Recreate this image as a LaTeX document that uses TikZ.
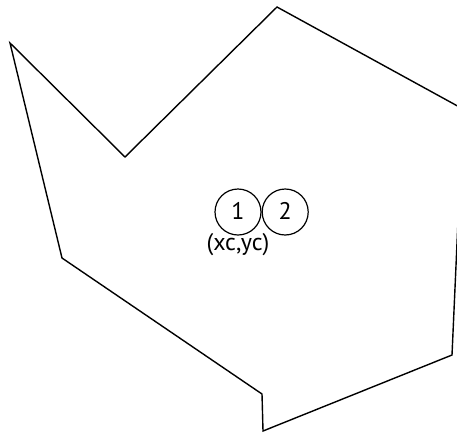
\documentclass[tikz,border=0pt]{standalone}
\usepackage{fontspec}
\setmainfont{PT Sans}
\usetikzlibrary{positioning}
\tikzset{
  ball/.style={draw, circle, line width=1.2pt, minimum size=46pt, inner sep=0pt, font=\fontsize{24}{24}\selectfont},
  edge/.style={line width=1.4pt, line join=miter}
}
\begin{document}
\begin{tikzpicture}[x=1pt, y=-1pt]
  \useasboundingbox (0,0) rectangle (457,432);
  \clip (0,0) rectangle (457,432);
  % outline
  \draw[edge] (10,43) -- (125,157) -- (277,7) -- (463,109) -- (452,355)
     -- (263,431) -- (262,394) -- (62,258) -- cycle;
  % the two circles
  \node[ball] (one) at (238,212) {\raisebox{3pt}{1}};
  \node[ball, right=0pt of one] (two) {\raisebox{3pt}{2}};
  \node[font=\fontsize{24}{24}\selectfont, below=-6pt of one] (centre) {(xc,yc)};
\end{tikzpicture}
\end{document}
